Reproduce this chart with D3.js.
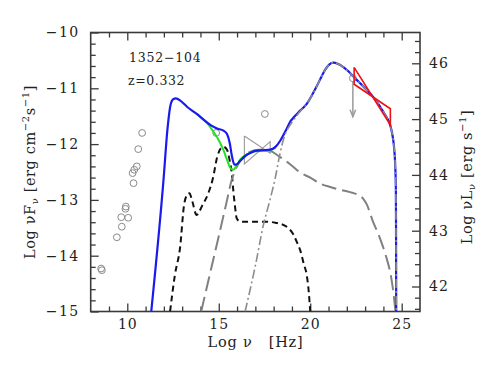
<!DOCTYPE html>
<html><head><meta charset="utf-8">
<script src="https://cdn.jsdelivr.net/npm/d3@7"></script>
<style>
body{margin:0;background:#fff}
svg{display:block}
text{font-family:"DejaVu Serif","Liberation Serif",serif;fill:#222}
</style>
</head><body>
<svg id="c" width="491" height="382"></svg>
<script>
// ---------- data ----------
const xMajorTicks = [10, 15, 20, 25];
const yMajorTicks = [-10, -11, -12, -13, -14, -15];
const yRightMajorTicks = [42, 43, 44, 45, 46];
const lumOffset = 56.552; // log nuL_nu = log nuF_nu + offset
const sourceName = "1352\u2212104";
const redshiftLabel = "z=0.332";

// archival photometric points [log nu, log nuF_nu]
const dataPoints = [
  [8.57,-14.23],[8.61,-14.26],[9.43,-13.67],[9.70,-13.48],[9.67,-13.31],[10.05,-13.32],
  [9.90,-13.16],[9.92,-13.12],[10.34,-12.70],[10.29,-12.52],[10.38,-12.46],[10.52,-12.40],
  [10.60,-12.09],[10.81,-11.80],[14.86,-11.80],[17.52,-11.46],[22.33,-10.82]
];
// upper limit arrow [log nu, from, to]
const upperLimit = [22.33, -10.82, -11.51];

// X-ray bow-tie: [nu_left, F_left_top, F_left_bottom, nu_right, F_right_top, F_right_bottom]
const xrayBowtie = [16.40, -11.855, -12.357, 17.81, -11.957, -12.165];
// Fermi bow-tie
const fermiBowtie = [22.40, -10.624, -10.928, 24.38, -11.366, -11.658];

// model components
const totalModel = [
  [11.31,-15.0],[11.98,-12.64],[12.2,-11.72],[12.35,-11.32],[12.5,-11.2],[12.66,-11.18],
  [12.9,-11.22],[13.26,-11.33],[13.8,-11.46],[14.2,-11.57],[14.6,-11.67],[14.9,-11.72],
  [15.26,-11.76],[15.45,-11.82],[15.6,-11.98],[15.71,-12.2],[15.86,-12.37],[16.0,-12.36],
  [16.17,-12.3],[16.5,-12.2],[16.72,-12.16],[17.0,-12.12],[17.4,-12.11],[17.81,-12.1],
  [18.1,-12.05],[18.36,-11.94],[18.72,-11.72],[18.9,-11.6],[19.1,-11.52],[19.45,-11.4],
  [19.81,-11.28],[20.1,-11.12],[20.36,-10.96],[20.6,-10.8],[20.81,-10.67],[21.05,-10.57],
  [21.27,-10.54],[21.5,-10.56],[21.81,-10.62],[22.1,-10.7],[22.36,-10.79],[22.7,-10.9],
  [23.09,-11.03],[23.5,-11.18],[23.82,-11.33],[24.1,-11.48],[24.37,-11.66],[24.5,-11.85],
  [24.58,-12.05],[24.64,-12.34],[24.68,-12.8],[24.69,-13.5],[24.70,-15.0]
];
const jetModel = [
  [13.8,-11.46],[14.2,-11.57],[14.5,-11.68],[14.71,-11.78],[15.0,-11.93],[15.26,-12.11],
  [15.45,-12.28],[15.62,-12.42],[15.8,-12.46],[15.95,-12.4],[16.17,-12.28],[16.4,-12.21],
  [16.7,-12.16],[17.0,-12.13],[17.4,-12.12],[17.81,-12.11],[18.1,-12.06]
];
const thermalModel = [
  [12.34,-15.0],[12.6,-14.35],[12.89,-13.84],[13.1,-13.1],[13.25,-12.92],[13.4,-12.88],
  [13.55,-13.02],[13.79,-13.27],[14.1,-13.1],[14.43,-12.88],[14.69,-12.6],[14.9,-12.25],
  [15.1,-12.08],[15.26,-12.05],[15.45,-12.1],[15.6,-12.3],[15.71,-12.52],[15.8,-12.85],
  [15.9,-13.15],[15.98,-13.33],[16.17,-13.39],[16.6,-13.39],[17.63,-13.39],[18.1,-13.41],
  [18.54,-13.45],[18.85,-13.52],[19.08,-13.62],[19.3,-13.78],[19.45,-13.9],[19.65,-14.15],
  [19.81,-14.35],[19.92,-14.65],[20.0,-15.0]
];
const sscModel = [
  [14.04,-15.0],[14.5,-14.35],[15.0,-13.65],[15.4,-13.08],[15.71,-12.64],[16.0,-12.4],
  [16.17,-12.3],[16.5,-12.18],[16.7,-12.14],[17.2,-12.1],[17.6,-12.1],[17.81,-12.12],
  [18.3,-12.22],[18.9,-12.36],[19.5,-12.52],[20.0,-12.6],[20.5,-12.7],[21.1,-12.77],
  [21.63,-12.82],[22.18,-12.86],[22.54,-12.9],[22.9,-12.98],[23.09,-13.08],[23.42,-13.38],
  [23.78,-13.66],[24.15,-14.02],[24.42,-14.38],[24.55,-14.67],[24.66,-15.0]
];
const ecModel = [
  [16.44,-15.0],[17.0,-14.18],[17.44,-13.45],[17.8,-13.0],[18.08,-12.62],[18.36,-12.15],
  [18.6,-11.85],[18.9,-11.66],[19.2,-11.52],[19.45,-11.41],[19.81,-11.28],[20.1,-11.12],
  [20.36,-10.96],[20.6,-10.8],[20.81,-10.67],[21.05,-10.57],[21.27,-10.54],[21.5,-10.56],
  [21.81,-10.62],[22.1,-10.7],[22.36,-10.79],[22.7,-10.9],[23.09,-11.03],[23.5,-11.18],
  [23.82,-11.33],[24.1,-11.48],[24.37,-11.66],[24.5,-11.85],[24.58,-12.05],[24.64,-12.34],
  [24.68,-12.8],[24.69,-13.5],[24.70,-15.0]
];

// ---------- layout ----------
const L = 90.7, R = 420, T = 32.5, B = 311.5;
const svg = d3.select("#c");
const x = d3.scaleLinear().domain([8, 26]).range([L, R]);
const y = d3.scaleLinear().domain([-15, -10]).range([B, T]);
const yR = d3.scaleLinear().domain([-15 + lumOffset, -10 + lumOffset]).range([B, T]);

const minus = v => (v < 0 ? "\u2212" + Math.abs(v) : String(v));
const axisColor = "#3a3a3a";

svg.append("defs").append("clipPath").attr("id", "clip")
  .append("rect").attr("x", L).attr("y", T).attr("width", R - L).attr("height", B - T);

// axes
function styleAxis(g) {
  g.select(".domain").remove();
  g.selectAll("line").attr("stroke", axisColor).attr("stroke-width", 1.3);
}
const xMinor = d3.range(9, 26, 1).filter(v => !xMajorTicks.includes(v));
const yMinor = d3.range(-14.8, -10, 0.2).map(v => +v.toFixed(1)).filter(v => !yMajorTicks.includes(v));
const yRMinor = d3.range(41.6, 46.6, 0.2).map(v => +v.toFixed(1)).filter(v => !yRightMajorTicks.includes(v));

// bottom
svg.append("g").attr("transform", `translate(0,${B})`)
  .call(d3.axisBottom(x).tickValues(xMajorTicks).tickSize(-8).tickPadding(7).tickFormat(d3.format("d")))
  .call(styleAxis)
  .call(g => g.selectAll("text").attr("font-size", 14).attr("fill", "#222").attr("dy", "0.72em").style("letter-spacing", "1px"));
svg.append("g").attr("transform", `translate(0,${B})`)
  .call(d3.axisBottom(x).tickValues(xMinor).tickSize(-5).tickFormat(""))
  .call(styleAxis);
// top
svg.append("g").attr("transform", `translate(0,${T})`)
  .call(d3.axisTop(x).tickValues(xMajorTicks).tickSize(-8).tickFormat(""))
  .call(styleAxis);
svg.append("g").attr("transform", `translate(0,${T})`)
  .call(d3.axisTop(x).tickValues(xMinor).tickSize(-5).tickFormat(""))
  .call(styleAxis);
// left
svg.append("g").attr("transform", `translate(${L},0)`)
  .call(d3.axisLeft(y).tickValues(yMajorTicks).tickSize(-8).tickPadding(11).tickFormat(minus))
  .call(styleAxis)
  .call(g => g.selectAll("text").attr("font-size", 14).attr("fill", "#222").style("letter-spacing", "1.5px"));
svg.append("g").attr("transform", `translate(${L},0)`)
  .call(d3.axisLeft(y).tickValues(yMinor).tickSize(-5).tickFormat(""))
  .call(styleAxis);
// right
svg.append("g").attr("transform", `translate(${R},0)`)
  .call(d3.axisRight(yR).tickValues(yRightMajorTicks).tickSize(-8).tickPadding(9).tickFormat(d3.format("d")))
  .call(styleAxis)
  .call(g => g.selectAll("text").attr("font-size", 14).attr("fill", "#222").style("letter-spacing", "1px"));
svg.append("g").attr("transform", `translate(${R},0)`)
  .call(d3.axisRight(yR).tickValues(yRMinor).tickSize(-5).tickFormat(""))
  .call(styleAxis);

// frame
svg.append("rect").attr("x", L).attr("y", T).attr("width", R - L).attr("height", B - T)
  .attr("fill", "none").attr("stroke", axisColor).attr("stroke-width", 1.6);

// plot content
const plot = svg.append("g").attr("clip-path", "url(#clip)");
const line = d3.line().x(d => x(d[0])).y(d => y(d[1])).curve(d3.curveMonotoneX);

// data circles
plot.selectAll("circle.pt").data(dataPoints).join("circle").attr("class", "pt")
  .attr("cx", d => x(d[0])).attr("cy", d => y(d[1])).attr("r", 3.4)
  .attr("fill", "none").attr("stroke", "#8a8a8a").attr("stroke-width", 1);

// upper limit arrow
{
  const ax = x(upperLimit[0]), y0 = y(upperLimit[1]), y1 = y(upperLimit[2]);
  plot.append("line").attr("x1", ax).attr("x2", ax).attr("y1", y0 + 3).attr("y2", y1)
    .attr("stroke", "#9a9a9a").attr("stroke-width", 1.5);
  plot.append("path").attr("d", `M${ax - 2.8},${y1 - 7}L${ax},${y1}L${ax + 2.8},${y1 - 7}`)
    .attr("fill", "none").attr("stroke", "#9a9a9a").attr("stroke-width", 1.5);
}

// bow-ties
function bowtie(b, color, w) {
  const pts = [[b[0], b[1]], [b[3], b[5]], [b[3], b[4]], [b[0], b[2]], [b[0], b[1]]];
  plot.append("path")
    .attr("d", d3.line().x(d => x(d[0])).y(d => y(d[1]))(pts))
    .attr("fill", "none").attr("stroke", color).attr("stroke-width", w).attr("stroke-linejoin", "miter");
}
bowtie(xrayBowtie, "#9a9a9a", 1.1);

// model curves
plot.append("path").attr("d", line(thermalModel)).attr("fill", "none")
  .attr("stroke", "#111").attr("stroke-width", 2).attr("stroke-dasharray", "6,4");
plot.append("path").attr("d", line(sscModel)).attr("fill", "none")
  .attr("stroke", "#808080").attr("stroke-width", 2).attr("stroke-dasharray", "15,6");
plot.append("path").attr("d", line(jetModel)).attr("fill", "none")
  .attr("stroke", "#22e222").attr("stroke-width", 2);
plot.append("path").attr("d", line(totalModel)).attr("fill", "none")
  .attr("stroke", "#1a1aee").attr("stroke-width", 2.2);
plot.append("path").attr("d", line(ecModel)).attr("fill", "none")
  .attr("stroke", "#8c8c8c").attr("stroke-width", 1.6).attr("stroke-dasharray", "9,3,2,3");

bowtie(fermiBowtie, "#ee1111", 1.6);

// labels inside
svg.append("text").attr("x", 129).attr("y", 61.5).attr("font-size", 12.5)
  .style("letter-spacing", "0.8px").text(sourceName);
svg.append("text").attr("x", 128).attr("y", 84.5).attr("font-size", 12.5)
  .style("letter-spacing", "0.6px").text(redshiftLabel);

// axis titles
const xt = svg.append("text").attr("x", 255.5).attr("y", 347).attr("text-anchor", "middle")
  .attr("font-size", 14.5).style("letter-spacing", "0.8px").attr("xml:space", "preserve");
xt.append("tspan").text("Log \u03bd\u2002\u2002[Hz]");

const ytL = svg.append("text").attr("transform", `translate(35,172) rotate(-90)`)
  .attr("text-anchor", "middle").attr("font-size", 14.5).style("letter-spacing", "0.6px");
ytL.append("tspan").text("Log \u03bdF");
ytL.append("tspan").attr("font-size", 10).attr("dy", 3).text("\u03bd");
ytL.append("tspan").attr("dy", -3).text(" [erg cm");
ytL.append("tspan").attr("font-size", 10).attr("dy", -6).text("\u22122");
ytL.append("tspan").attr("dy", 6).text("s");
ytL.append("tspan").attr("font-size", 10).attr("dy", -6).text("\u22121");
ytL.append("tspan").attr("dy", 6).text("]");

const ytR = svg.append("text").attr("transform", `translate(472,177) rotate(-90)`)
  .attr("text-anchor", "middle").attr("font-size", 14.5).style("letter-spacing", "0.6px");
ytR.append("tspan").text("Log \u03bdL");
ytR.append("tspan").attr("font-size", 10).attr("dy", 3).text("\u03bd");
ytR.append("tspan").attr("dy", -3).text(" [erg s");
ytR.append("tspan").attr("font-size", 10).attr("dy", -6).text("\u22121");
ytR.append("tspan").attr("dy", 6).text("]");
</script>
</body></html>
